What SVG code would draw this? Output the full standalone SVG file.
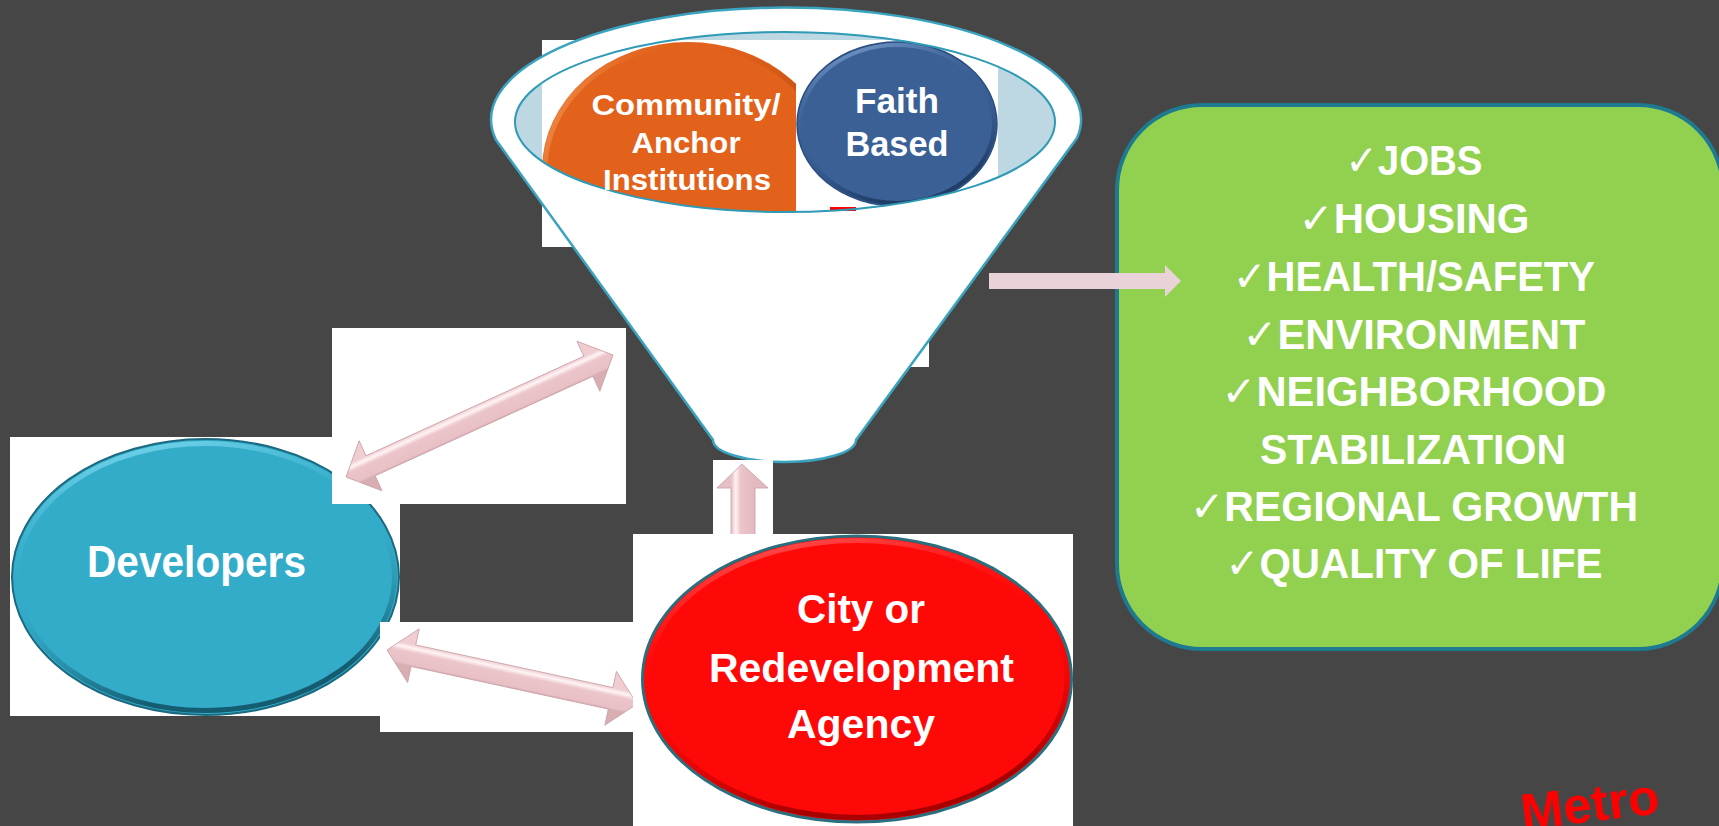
<svg xmlns="http://www.w3.org/2000/svg" width="1719" height="826" viewBox="0 0 1719 826">
<defs>
<style>
.lbl{font-family:"Liberation Sans",Arial,sans-serif;font-weight:bold;fill:#FFFFFF;text-anchor:middle;}
.gtxt{font-family:"Liberation Sans","DejaVu Sans",sans-serif;font-weight:bold;fill:#FFFFFF;text-anchor:middle;font-size:42px;}
.wbox{fill:#FFFFFF;}
.arr{stroke:#C9A0A6;stroke-width:0.8;}
</style>
<clipPath id="innerClip"><ellipse cx="785" cy="122" rx="270" ry="90"/></clipPath>
<clipPath id="imgClip"><rect x="542" y="40" width="254" height="207"/></clipPath>
<linearGradient id="arrG" gradientUnits="userSpaceOnUse" x1="0" y1="-11" x2="0" y2="11">
<stop offset="0" stop-color="#EFCDD1"/>
<stop offset="0.18" stop-color="#FFF4F5"/>
<stop offset="0.38" stop-color="#EBC5C9"/>
<stop offset="0.9" stop-color="#E8C0C5"/>
<stop offset="1" stop-color="#D8AEB3"/>
</linearGradient>
<linearGradient id="arrV" gradientUnits="userSpaceOnUse" x1="731" y1="0" x2="755" y2="0">
<stop offset="0" stop-color="#E6BFC4"/>
<stop offset="0.2" stop-color="#FFF2F4"/>
<stop offset="0.4" stop-color="#EBC5C9"/>
<stop offset="1" stop-color="#E2B9BE"/>
</linearGradient>
<linearGradient id="devEdge" x1="0" y1="0" x2="0.3" y2="1">
<stop offset="0" stop-color="#8FE6F8"/>
<stop offset="0.5" stop-color="#33ACCA" stop-opacity="0"/>
<stop offset="1" stop-color="#145C70"/>
</linearGradient>
<linearGradient id="cityEdge" x1="0" y1="0" x2="0.3" y2="1">
<stop offset="0" stop-color="#FF6A6A"/>
<stop offset="0.5" stop-color="#FF0808" stop-opacity="0"/>
<stop offset="1" stop-color="#A80000"/>
</linearGradient>
<linearGradient id="orEdge" x1="0" y1="0" x2="1" y2="0.4">
<stop offset="0" stop-color="#F9A866"/>
<stop offset="0.4" stop-color="#E2621C" stop-opacity="0"/>
<stop offset="1" stop-color="#B4470E"/>
</linearGradient>
<linearGradient id="blEdge" x1="0" y1="0" x2="0.4" y2="1">
<stop offset="0" stop-color="#8FB0DE"/>
<stop offset="0.5" stop-color="#3A6096" stop-opacity="0"/>
<stop offset="1" stop-color="#1F3D66"/>
</linearGradient>
</defs>

<rect x="0" y="0" width="1719" height="826" fill="#464646"/>

<!-- white image backgrounds behind funnel -->
<rect class="wbox" x="542" y="40" width="456" height="207"/>
<rect class="wbox" x="700" y="40" width="229" height="327"/>

<g id="funnel">
<path d="M496,140 L713,440 A71.5,22 0 0 0 856,440 L1077,138 A295,112 0 1 0 496,140 Z" fill="#FFFFFF" stroke="#3AA3BF" stroke-width="2.5"/>
<ellipse cx="785" cy="122" rx="270" ry="90" fill="#BDD7E3"/>
<g clip-path="url(#innerClip)">
<rect x="542" y="40" width="456" height="207" fill="#FFFFFF"/>
<g id="community" clip-path="url(#imgClip)">
<ellipse cx="688" cy="170" rx="146" ry="128" fill="#E2621C"/>
<ellipse cx="688" cy="170" rx="143" ry="125" fill="none" stroke="url(#orEdge)" stroke-width="5"/>
</g>
<g id="faith">
<ellipse cx="897" cy="124" rx="100" ry="82" fill="#3A6096" stroke="#2B4E80" stroke-width="1.5"/>
<ellipse cx="897" cy="124" rx="97" ry="79" fill="none" stroke="url(#blEdge)" stroke-width="4"/>
</g>
</g>
<rect x="830" y="207" width="26" height="4" fill="#FF0000"/>
<ellipse cx="785" cy="122" rx="270" ry="90" fill="none" stroke="#2E9AB5" stroke-width="2"/>
<text class="lbl" font-size="29" x="686" y="115" textLength="189" lengthAdjust="spacingAndGlyphs">Community/</text>
<text class="lbl" font-size="29" x="686" y="153" textLength="109" lengthAdjust="spacingAndGlyphs">Anchor</text>
<text class="lbl" font-size="29" x="687" y="190" textLength="168" lengthAdjust="spacingAndGlyphs">Institutions</text>
<text class="lbl" font-size="35" x="897" y="113" textLength="84" lengthAdjust="spacingAndGlyphs">Faith</text>
<text class="lbl" font-size="35" x="897" y="156" textLength="103" lengthAdjust="spacingAndGlyphs">Based</text>
</g>

<g id="developers">
<rect class="wbox" x="10" y="437" width="390" height="279"/>
<ellipse cx="205.5" cy="577" rx="193.5" ry="138" fill="#33ACCA" stroke="#1B6A80" stroke-width="2"/>
<ellipse cx="205.5" cy="577" rx="189" ry="133.5" fill="none" stroke="url(#devEdge)" stroke-width="5"/>
<text class="lbl" font-size="44" x="196.5" y="577" textLength="219" lengthAdjust="spacingAndGlyphs">Developers</text>
</g>

<g id="connectors">
<rect class="wbox" x="332" y="328" width="294" height="176"/>
<rect class="wbox" x="380" y="622" width="254" height="110"/>
<rect class="wbox" x="713" y="460" width="60" height="74"/>
<g transform="translate(346,477) rotate(-24.56)">
<path class="arr" fill="url(#arrG)" d="M0,0 L27,-27.5 L27,-11 L266.5,-11 L266.5,-27.5 L293.5,0 L266.5,27.5 L266.5,11 L27,11 L27,27.5 Z"/>
</g>
<g transform="translate(387,650) rotate(12.19)">
<path class="arr" fill="url(#arrG)" d="M0,0 L27,-27.5 L27,-11 L228.8,-11 L228.8,-27.5 L255.8,0 L228.8,27.5 L228.8,11 L27,11 L27,27.5 Z"/>
</g>
<path class="arr" fill="url(#arrV)" d="M742,464 L768,488 L755,488 L755,540 L731,540 L731,488 L717,488 Z"/>
</g>

<g id="city">
<rect class="wbox" x="633" y="534" width="440" height="292"/>
<ellipse cx="857" cy="679" rx="214.5" ry="143" fill="#FF0808" stroke="#2B6F7E" stroke-width="3"/>
<ellipse cx="857" cy="679" rx="210" ry="138.5" fill="none" stroke="url(#cityEdge)" stroke-width="5"/>
<text class="lbl" font-size="40" x="861" y="623" textLength="128" lengthAdjust="spacingAndGlyphs">City or</text>
<text class="lbl" font-size="40" x="861.5" y="682" textLength="305" lengthAdjust="spacingAndGlyphs">Redevelopment</text>
<text class="lbl" font-size="40" x="861" y="738" textLength="148" lengthAdjust="spacingAndGlyphs">Agency</text>
</g>

<g id="outcomes">
<rect x="1117" y="105" width="606" height="544" rx="85" ry="85" fill="#92D050" stroke="#1D7A90" stroke-width="4"/>
<text class="gtxt" x="1414" y="175" textLength="137" lengthAdjust="spacingAndGlyphs">✓JOBS</text>
<text class="gtxt" x="1414" y="233" textLength="231" lengthAdjust="spacingAndGlyphs">✓HOUSING</text>
<text class="gtxt" x="1414" y="291" textLength="362" lengthAdjust="spacingAndGlyphs">✓HEALTH/SAFETY</text>
<text class="gtxt" x="1414" y="349" textLength="343" lengthAdjust="spacingAndGlyphs">✓ENVIRONMENT</text>
<text class="gtxt" x="1414" y="406" textLength="385" lengthAdjust="spacingAndGlyphs">✓NEIGHBORHOOD</text>
<text class="gtxt" x="1413" y="464" textLength="306" lengthAdjust="spacingAndGlyphs">STABILIZATION</text>
<text class="gtxt" x="1414" y="521" textLength="448" lengthAdjust="spacingAndGlyphs">✓REGIONAL GROWTH</text>
<text class="gtxt" x="1414" y="578" textLength="377" lengthAdjust="spacingAndGlyphs">✓QUALITY OF LIFE</text>
</g>

<g id="connector-out">
<path d="M989,273 H1165 V265 L1181,281 L1165,297 V289 H989 Z" fill="#E9D3D8"/>
</g>

<text x="1523" y="830" transform="rotate(-7 1523 830)" font-family="'Liberation Sans',Arial,sans-serif" font-weight="bold" font-size="51" fill="#FF0000">Metro</text>
</svg>
